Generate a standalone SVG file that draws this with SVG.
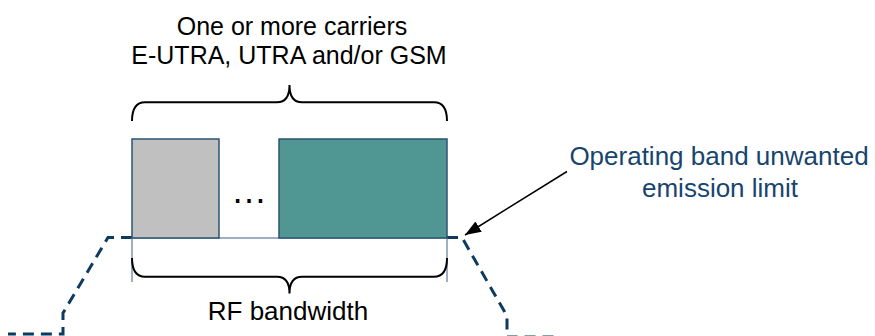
<svg xmlns="http://www.w3.org/2000/svg" width="875" height="336" viewBox="0 0 875 336">
<defs>
<style>
.t{font-family:"Liberation Sans",Arial,sans-serif;font-size:26px;text-anchor:middle}
.t2{font-family:"Liberation Sans",Arial,sans-serif;font-size:25px;text-anchor:middle}
.blk{fill:#000}
.blue{fill:#17456e}
.brace{fill:none;stroke:#000;stroke-width:2}
.dash{fill:none;stroke:#0f3a5f;stroke-width:3;stroke-dasharray:11 7}
.thin{fill:none;stroke:#7f96ab;stroke-width:1.5}
.rect{stroke:#2a5473;stroke-width:1.5}
</style>
<marker id="ah2" viewBox="0 0 16 12" refX="16" refY="6" markerWidth="16" markerHeight="12" markerUnits="userSpaceOnUse" orient="auto">
<path d="M0,0 L16,6 L0,12 Z" fill="#000"/>
</marker>
</defs>
<g id="carriers-label">
<text class="t2 blk" x="292" y="34.5">One or more carriers</text>
<text class="t2 blk" x="289" y="63.5">E-UTRA, UTRA and/or GSM</text>
</g>
<g id="top-brace">
<path class="brace" d="M132,121 Q132,102.3 145,102.3 L277,102.3 Q289.5,102.3 289.5,85 Q289.5,102.3 302,102.3 L434,102.3 Q447,102.3 447,121"/>
</g>
<g id="limit-line">
<path class="dash" d="M132,237.5 L108,237.5 L63,313 L63,334 L8,334"/>
<path class="dash" d="M447,237.5 L462,237.5 L507,316 L507,337 L560,337"/>
</g>
<g id="baseline">
<path class="thin" d="M132,238 L447,238 M132,238 L132,282 M447,238 L447,282"/>
</g>
<g id="carrier-gray">
<rect class="rect" x="132" y="139" width="87" height="99" fill="#c0c0c0"/>
</g>
<g id="carrier-teal">
<rect class="rect" x="279" y="139" width="168" height="99" fill="#509692"/>
</g>
<g id="ellipsis">
<text x="249" y="203" style="font-family:'Liberation Sans',Arial,sans-serif;font-size:36px;text-anchor:middle" fill="#000">…</text>
</g>
<g id="bottom-brace">
<path class="brace" d="M132,258 Q132,276.7 145,276.7 L277,276.7 Q289.5,276.7 289.5,293.5 Q289.5,276.7 302,276.7 L434,276.7 Q447,276.7 447,258"/>
</g>
<g id="rf-label">
<text class="t blk" x="288" y="320">RF bandwidth</text>
</g>
<g id="limit-label">
<text class="t blue" x="719" y="165">Operating band unwanted</text>
<text class="t blue" x="720" y="197">emission limit</text>
</g>
<g id="connectors">
<line x1="567" y1="171.5" x2="465" y2="235" stroke="#000" stroke-width="1.5" marker-end="url(#ah2)"/>
</g>
</svg>
